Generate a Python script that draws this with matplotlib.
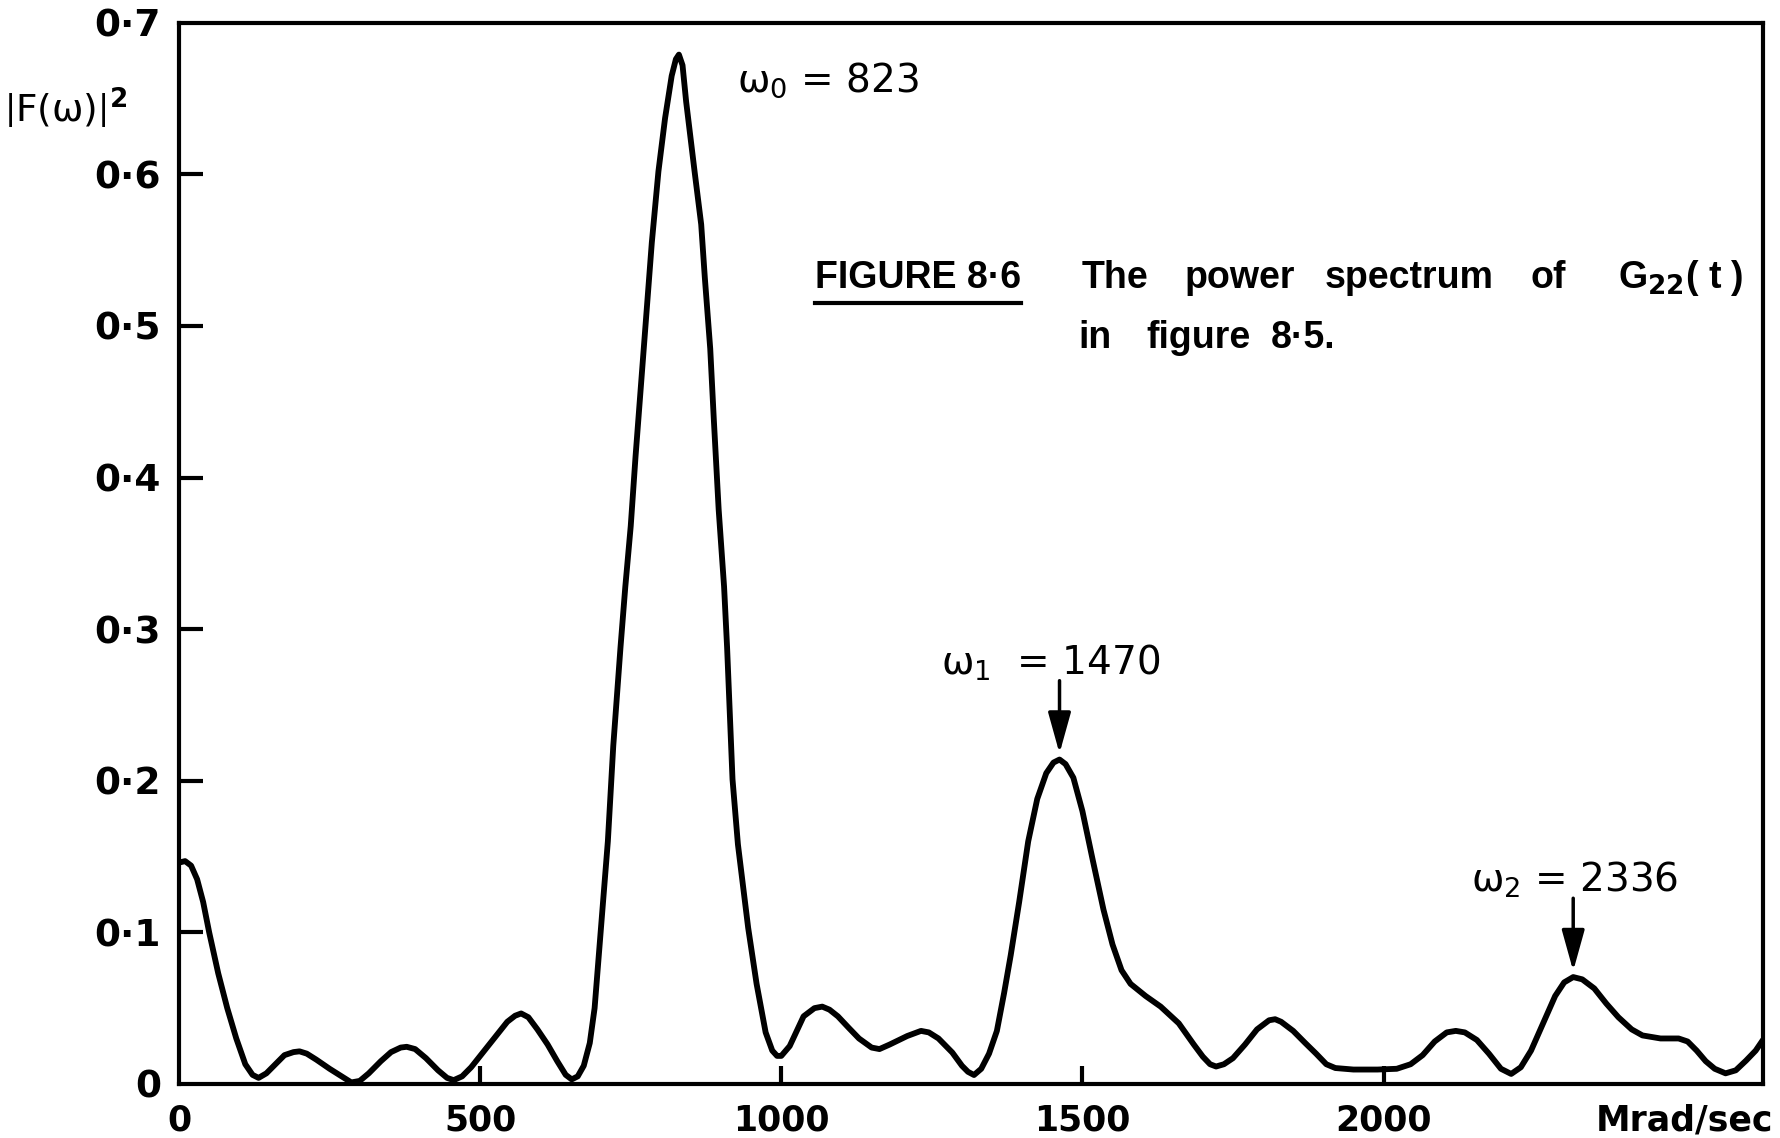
import numpy as np
import matplotlib
matplotlib.use("Agg")
import matplotlib.pyplot as plt

# curve (omega in Mrad/sec, |F(omega)|^2)
omega = [0, 10, 20, 30, 40, 50, 65, 80, 95, 110, 122, 132, 145, 160, 175, 190, 200, 212, 228, 250,
         270, 286, 300, 315, 335, 352, 368, 378, 392, 410, 430, 445, 456, 470, 485, 505, 525, 545, 558, 568,
         580, 595, 612, 628, 642, 652, 662, 672, 682, 690, 698, 705, 712, 721, 733, 741, 750, 758, 767, 776,
         785, 796, 807, 818, 825, 830, 836, 842, 856, 867, 873, 882, 888, 896, 905, 910, 919, 928, 945, 959,
         974, 985, 993, 1000, 1014, 1037, 1055, 1068, 1080, 1094, 1112, 1129, 1150, 1163, 1180, 1209, 1232, 1245, 1261, 1284,
         1300, 1310, 1320, 1332, 1345, 1358, 1370, 1381, 1395, 1410, 1425, 1440, 1452, 1462, 1472, 1485, 1500, 1517, 1535, 1550,
         1565, 1580, 1605, 1630, 1660, 1685, 1700, 1712, 1722, 1735, 1750, 1770, 1790, 1810, 1820, 1830, 1850, 1870, 1888, 1905,
         1920, 1950, 1990, 2022, 2045, 2065, 2085, 2105, 2120, 2135, 2155, 2175, 2195, 2212, 2228, 2245, 2265, 2285, 2300, 2315,
         2330, 2350, 2370, 2390, 2412, 2430, 2460, 2490, 2505, 2520, 2535, 2550, 2568, 2585, 2602, 2618, 2630]
power = [0.146, 0.147, 0.144, 0.135, 0.120, 0.100, 0.073, 0.050, 0.030, 0.013, 0.006, 0.004, 0.007, 0.013, 0.019, 0.021, 0.0215, 0.020, 0.016, 0.010,
         0.005, 0.001, 0.002, 0.007, 0.015, 0.021, 0.024, 0.0245, 0.023, 0.017, 0.009, 0.004, 0.0025, 0.005, 0.011, 0.021, 0.031, 0.041, 0.045, 0.0465,
         0.044, 0.036, 0.026, 0.015, 0.006, 0.003, 0.005, 0.012, 0.027, 0.050, 0.090, 0.125, 0.160, 0.223, 0.288, 0.328, 0.368, 0.414, 0.461, 0.508,
         0.555, 0.602, 0.637, 0.665, 0.676, 0.679, 0.672, 0.648, 0.602, 0.567, 0.532, 0.485, 0.438, 0.379, 0.328, 0.288, 0.201, 0.158, 0.103, 0.066,
         0.034, 0.022, 0.0185, 0.0185, 0.025, 0.0446, 0.050, 0.051, 0.049, 0.0446, 0.037, 0.030, 0.024, 0.023, 0.026, 0.0316, 0.035, 0.034, 0.030, 0.0207,
         0.012, 0.008, 0.0059, 0.010, 0.020, 0.035, 0.060, 0.085, 0.120, 0.160, 0.188, 0.205, 0.212, 0.214, 0.211, 0.202, 0.180, 0.148, 0.115, 0.092,
         0.075, 0.066, 0.058, 0.051, 0.040, 0.026, 0.018, 0.013, 0.0115, 0.013, 0.017, 0.026, 0.036, 0.042, 0.0427, 0.041, 0.035, 0.027, 0.020, 0.013,
         0.0105, 0.0095, 0.0095, 0.010, 0.013, 0.019, 0.028, 0.034, 0.035, 0.034, 0.029, 0.020, 0.010, 0.0066, 0.011, 0.022, 0.040, 0.058, 0.067, 0.0705,
         0.069, 0.063, 0.053, 0.044, 0.036, 0.032, 0.030, 0.030, 0.028, 0.022, 0.015, 0.010, 0.007, 0.009, 0.0154, 0.022, 0.029]

peak_values = [823, 1470, 2336]
peak_names = [r"$\mathrm{\omega_0}$ = 823", r"$\mathrm{\omega_1}$  = 1470", r"$\mathrm{\omega_2}$ = 2336"]

xticks = [0, 500, 1000, 1500, 2000, 2500]
xticklabels = ["0", "500", "1000", "1500", "2000", "Mrad/sec"]
yticks = [0, 0.1, 0.2, 0.3, 0.4, 0.5, 0.6, 0.7]
yticklabels = ["0", "0·1", "0·2", "0·3", "0·4", "0·5", "0·6", "0·7"]

caption1 = ["FIGURE 8·6", "The", "power", "spectrum", "of", r"G$_\mathbf{22}$( t )"]
caption2 = ["in", "figure", "8·5."]

plt.rcParams["font.family"] = ["DejaVu Sans"]
plt.rcParams["mathtext.fontset"] = "dejavusans"

fig = plt.figure(figsize=(17.8, 11.38), dpi=100)
ax = fig.add_axes([0.1006, 0.0475, 0.8898, 0.9325])

ax.plot(omega, power, color="black", lw=4.2, solid_joinstyle="round", solid_capstyle="round")

ax.set_xlim(0, 2630)
ax.set_ylim(0, 0.7)
for s in ax.spines.values():
    s.set_linewidth(3)

ax.set_xticks(xticks)
ax.set_xticklabels(xticklabels)
ax.set_yticks(yticks)
ax.set_yticklabels(yticklabels)
ax.tick_params(axis="both", direction="in", width=3)
ax.tick_params(axis="x", length=13, pad=14, labelsize=25)
ax.tick_params(axis="y", length=17, pad=13, labelsize=27)
for lab in ax.get_xticklabels() + ax.get_yticklabels():
    lab.set_fontweight("bold")
# no tick marks at the corners
for t in [ax.xaxis.get_major_ticks()[0], ax.xaxis.get_major_ticks()[-1],
          ax.yaxis.get_major_ticks()[0], ax.yaxis.get_major_ticks()[-1]]:
    t.tick1line.set_visible(False)
ax.xaxis.get_major_ticks()[-1].label1.set_horizontalalignment("center")

fig.text(0.037, 0.905, r"$\left|\mathrm{F(\omega)}\right|^\mathbf{2}$", fontsize=27,
         ha="center", va="center")

# peak labels
om = np.array(omega)
pw = np.array(power)
for k, (val, name) in enumerate(zip(peak_values, peak_names)):
    near = np.abs(om - val) < 60
    i = np.argmax(np.where(near, pw, -1))
    px, py = om[i], pw[i]
    if k == 0:
        ax.text(px + 97, py - 0.017, name, fontsize=28, ha="left", va="center")
    else:
        dx = -197 if k == 1 else -169
        ax.text(px + dx, py + 0.064, name, fontsize=28, ha="left", va="center")
        ax.annotate("", xy=(px, py + 0.004), xytext=(px, py + 0.052),
                    arrowprops=dict(arrowstyle="-|>,head_length=0.9,head_width=0.25",
                                    color="black", lw=2.5,
                                    mutation_scale=28, shrinkA=0, shrinkB=0))

# caption, spread out like the typed original
cap_font = ["Liberation Sans", "DejaVu Sans"]
x1 = [815, 1082, 1185, 1325, 1530, 1618]
x2 = [1078, 1146, 1271]
W, H = 1780, 1138
texts = []
for word, x in zip(caption1, x1):
    texts.append(fig.text(x / W, 1 - 278 / H, word, fontsize=27, family=cap_font,
                          fontweight="bold", ha="left", va="center"))
for word, x in zip(caption2, x2):
    fig.text(x / W, 1 - 338 / H, word, fontsize=27, family=cap_font,
             fontweight="bold", ha="left", va="center")

fig.canvas.draw()
bb = texts[0].get_window_extent().transformed(fig.transFigure.inverted())
fig.add_artist(plt.Line2D([bb.x0, bb.x1], [bb.y0 - 0.006, bb.y0 - 0.006],
                          color="black", lw=3, transform=fig.transFigure))

fig.savefig("out.png", dpi=100)
